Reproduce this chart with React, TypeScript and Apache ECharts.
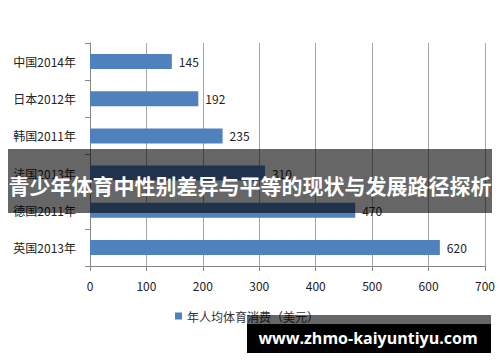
import React, { useEffect, useRef } from "react";
import * as echarts from "echarts";

const categories = ["中国2014年", "日本2012年", "韩国2011年", "法国2013年", "德国2011年", "英国2013年"];
const values = [145, 192, 235, 310, 470, 620];
const seriesName = "年人均体育消费（美元）";
const bannerTitle = "青少年体育中性别差异与平等的现状与发展路径探析";
const watermark = "www.zhmo-kaiyuntiyu.com";

export default function App() {
  const ref = useRef<HTMLDivElement>(null);
  useEffect(() => {
    if (!ref.current) return;
    const chart = echarts.init(ref.current, undefined, { renderer: "svg" });
    const font = '"Noto Sans CJK SC", "Noto Sans", sans-serif';
    chart.setOption({
      animation: false,
      backgroundColor: "#ffffff",
      textStyle: { fontFamily: font },
      grid: { left: 90, right: 15, top: 43, bottom: 96, containLabel: false },
      legend: {
        left: 170,
        top: 305,
        itemWidth: 7,
        itemHeight: 7,
        itemGap: 4,
        icon: "rect",
        textStyle: { fontSize: 12, color: "#333", fontFamily: font },
        data: [seriesName],
      },
      xAxis: {
        type: "value",
        min: 0,
        max: 700,
        interval: 100,
        axisLine: { show: true, lineStyle: { color: "#868686", width: 1 } },
        axisTick: { show: true, length: 5, lineStyle: { color: "#868686" } },
        splitLine: { show: true, lineStyle: { color: "#a6a6a6", width: 1 } },
        axisLabel: { fontSize: 12, color: "#222", margin: 13, fontFamily: font },
      },
      yAxis: {
        type: "category",
        inverse: true,
        data: categories,
        axisLine: { show: true, lineStyle: { color: "#868686", width: 1 } },
        axisTick: { show: true, length: 5, lineStyle: { color: "#868686" } },
        axisLabel: { fontSize: 12, color: "#222", margin: 14, fontFamily: font },
      },
      series: [
        {
          name: seriesName,
          type: "bar",
          data: values,
          barWidth: 15,
          itemStyle: { color: "#4f81bd" },
          label: {
            show: true,
            position: "right",
            distance: 7,
            fontSize: 12,
            color: "#222",
            fontFamily: font,
          },
        },
      ],
      graphic: [
        {
          type: "rect",
          shape: { x: 8, y: 149, width: 484, height: 64 },
          style: { fill: "rgba(0,0,0,0.6)" },
          z: 100,
        },
        {
          type: "text",
          x: 250,
          y: 185,
          style: {
            text: bannerTitle,
            fill: "#ffffff",
            fontSize: 21,
            fontWeight: "bold",
            fontFamily: '"Noto Sans CJK SC", sans-serif',
            align: "center",
            verticalAlign: "middle",
          },
          z: 101,
        },
        {
          type: "rect",
          shape: { x: 247, y: 315, width: 244, height: 9 },
          style: { fill: "rgba(0,0,0,0.6)" },
          z: 100,
        },
        {
          type: "rect",
          shape: { x: 247, y: 324, width: 244, height: 29 },
          style: { fill: "#000000" },
          z: 100,
        },
        {
          type: "text",
          x: 368,
          y: 338,
          style: {
            text: watermark,
            fill: "#ffffff",
            fontSize: 16,
            fontWeight: "bold",
            fontFamily: '"Open Sans", "Noto Sans", sans-serif',
            align: "center",
            verticalAlign: "middle",
          },
          z: 101,
        },
      ],
    });
    return () => chart.dispose();
  }, []);
  return (
    <div
      ref={ref}
      style={{ position: "fixed", left: 0, top: 0, width: 500, height: 362 }}
    />
  );
}
